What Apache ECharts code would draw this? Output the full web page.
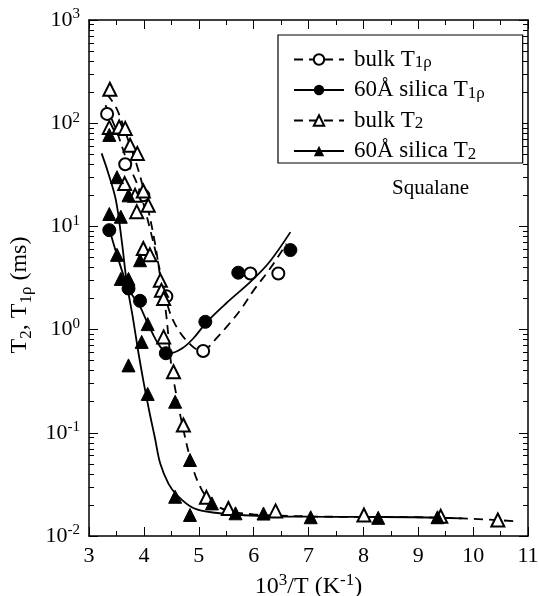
<!DOCTYPE html>
<html>
  <head>
    <meta charset="utf-8" />
    <title>Squalane T2, T1rho</title>
    <script src="https://cdn.jsdelivr.net/npm/echarts@6/dist/echarts.min.js"></script>
  </head>
  <body style="margin:0">
    <div id="main" style="width: 539px;height:596px;"></div>
    <script type="text/javascript">
      // measured points, [10^3/T, time in ms]
      var bulkT1rho = [[3.33,123],[3.66,40],[3.99,20],[4.41,2.1],[5.08,0.62],[5.94,3.5],[6.45,3.5]];
      var silicaT1rho = [[3.37,9.2],[3.72,2.5],[3.93,1.9],[4.40,0.59],[5.12,1.19],[5.72,3.56],[6.67,5.9]];
      var bulkT2 = [[3.38,213],[3.37,91],[3.55,92],[3.66,89],[3.75,61],[3.88,51],[3.65,26],[3.84,20],[3.99,22],
                    [4.08,16],[3.87,13.9],[3.99,6.1],[4.11,5.3],[4.30,3.0],[4.32,2.4],[4.36,2.0],[4.36,0.85],
                    [4.54,0.39],[4.72,0.119],[5.14,0.0237],[5.54,0.0185],[6.40,0.0175],[8.01,0.016],[9.41,0.0155],[10.45,0.0143]];
      var silicaT2 = [[3.37,77],[3.51,30],[3.72,20],[3.37,13.2],[3.58,12.4],[3.51,5.3],[3.58,3.1],[3.72,3.1],[3.93,4.7],
                      [4.07,1.13],[3.96,0.76],[3.72,0.45],[4.07,0.238],[4.57,0.2],[4.84,0.0545],[4.57,0.024],[4.84,0.016],
                      [5.24,0.0207],[5.67,0.0166],[6.18,0.0165],[7.04,0.0152],[8.27,0.015],[9.35,0.0152]];

      // fitted curves
      var bulkT1rhoFit = [[3.3,150],[3.5,85],[3.7,42],[3.9,24],[4.1,10],[4.3,3.6],[4.45,1.6],[4.6,1.05],[4.8,0.76],
                          [5.0,0.64],[5.15,0.66],[5.3,0.8],[5.5,1.05],[5.76,1.55],[6.0,2.4],[6.3,3.9],[6.6,6.8]];
      var silicaT1rhoFit = [[3.37,9.5],[3.5,5.5],[3.72,2.5],[3.93,1.67],[4.07,1.15],[4.3,0.68],[4.48,0.59],[4.7,0.66],
                            [4.9,0.82],[5.15,1.19],[5.5,1.8],[5.97,3.0],[6.3,4.6],[6.67,8.8]];
      var bulkT2Fit = [[3.33,190],[3.5,140],[3.7,72],[3.9,35],[4.05,17],[4.2,7],[4.3,3.2],[4.4,1.5],[4.5,0.45],[4.6,0.22],
                       [4.7,0.12],[4.85,0.055],[5.0,0.032],[5.2,0.022],[5.5,0.0178],[6.0,0.0162],[7.0,0.0155],[8.0,0.0153],
                       [9.0,0.0152],[9.8,0.0148],[10.8,0.0139]];
      var silicaT2Fit = [[3.23,51],[3.35,33],[3.49,18],[3.6,7],[3.69,2.8],[3.8,1.3],[3.9,0.6],[4.0,0.3],[4.1,0.16],[4.2,0.09],
                         [4.3,0.05],[4.45,0.032],[4.6,0.025],[4.9,0.0187],[5.3,0.0168],[6.06,0.0157],[7.0,0.0154],[8.0,0.0153],
                         [9.0,0.0152],[9.8,0.0148]];

      var seriesNames = ['bulk T1ρ', '60Å silica T1ρ', 'bulk T2', '60Å silica T2'];
      var xMin = 3, xMax = 11;
      var yMin = 0.01, yMax = 1000;

      // minor ticks of the log axis (2..9 in every decade), placed in log10 space
      var yMinorTicks = [];
      for (var d = -2; d < 3; d++) {
        for (var k = 2; k <= 9; k++) yMinorTicks.push(d + Math.log10(k));
      }

      var font = 'Liberation Serif';
      function richSet(size, subSize, lh) {
        return {
          base: { fontFamily: font, fontSize: size, color: '#000', lineHeight: lh },
          sup: { fontFamily: font, fontSize: subSize, color: '#000', verticalAlign: 'top', lineHeight: subSize },
          sub: { fontFamily: font, fontSize: subSize, color: '#000', verticalAlign: 'bottom', lineHeight: subSize }
        };
      }
      var tickRich = richSet(22, 15, 26);
      var titleRich = richSet(24, 17, 29);
      var legendRich = richSet(23, 17, 24);

      var myChart = echarts.init(document.getElementById('main'));

      function yAxis(pos, minor) {
        var ax = minor
          ? { type: 'value', min: Math.log10(yMin), max: Math.log10(yMax) }
          : { type: 'log', min: yMin, max: yMax, logBase: 10 };
        ax.position = pos;
        ax.axisLine = { show: !minor, onZero: false, lineStyle: { color: '#000', width: 1.5 } };
        ax.axisTick = minor
          ? { show: true, inside: true, length: 5, customValues: yMinorTicks, lineStyle: { color: '#000' } }
          : { show: true, inside: true, length: 9, lineStyle: { color: '#000' } };
        ax.axisLabel = { show: false };
        ax.splitLine = { show: false };
        return ax;
      }

      var yAxes = [yAxis('left', false), yAxis('left', true), yAxis('right', false), yAxis('right', true)];
      yAxes[0].axisLabel = {
        show: true, margin: 9,
        formatter: function (v) { return '{base|10}{sup|' + Math.round(Math.log10(v)) + '}'; },
        rich: tickRich
      };
      yAxes[0].name = '{base|T}{sub|2}{base|, T}{sub|1ρ}{base| (ms)}';
      yAxes[0].nameLocation = 'middle';
      yAxes[0].nameGap = 43;
      yAxes[0].nameTextStyle = { rich: titleRich, padding: [0, 34, 0, 0] };

      function xAxis(pos, labels) {
        return {
          type: 'value', position: pos, min: xMin, max: xMax, interval: 1,
          axisLine: { onZero: false, lineStyle: { color: '#000', width: 1.5 } },
          axisTick: { inside: true, length: 9, lineStyle: { color: '#000' } },
          minorTick: { show: true, splitNumber: 2, length: 5, lineStyle: { color: '#000' } },
          axisLabel: labels ? { show: true, margin: 9, fontFamily: font, fontSize: 22, color: '#000' } : { show: false },
          splitLine: { show: false }
        };
      }
      var xAxes = [xAxis('bottom', true), xAxis('top', false)];
      xAxes[0].name = '{base|10}{sup|3}{base|/T (K}{sup|-1}{base|)}';
      xAxes[0].nameLocation = 'middle';
      xAxes[0].nameGap = 30;
      xAxes[0].nameTextStyle = { rich: titleRich };

      function curve(name, data, dashed, symbol) {
        return {
          name: name, type: 'line', data: data, smooth: 0.35, showSymbol: false, symbol: symbol,
          symbolSize: 12, silent: true, z: 2,
          itemStyle: { color: '#000' },
          lineStyle: { color: '#000', width: 1.8, type: dashed ? [9, 6] : 'solid' }
        };
      }
      function points(name, data, symbol, size) {
        return {
          name: name, type: 'scatter', data: data, symbol: symbol, symbolSize: size, z: 3,
          itemStyle: { color: '#000', borderColor: '#000', borderWidth: 1, opacity: 1 }
        };
      }

      option = {
        animation: false,
        grid: { left: 89, right: 11, top: 20, bottom: 60, outerBoundsMode: 'none' },
        legend: {
          orient: 'vertical', left: 278, top: 35,
          data: seriesNames,
          backgroundColor: '#fff', borderColor: '#000', borderWidth: 1.2,
          padding: [13, 38, 0, 15], itemGap: 7, itemWidth: 50, itemHeight: 13,
          formatter: function (n) { return n.replace(/T(1ρ|2)$/, 'T{sub|$1}').replace(/^(.*?T)\{/, '{base|$1}{'); },
          textStyle: { rich: legendRich, padding: [0, 0, 0, 5] }
        },
        graphic: [{
          type: 'text', left: 392, top: 178,
          style: { text: 'Squalane', font: '21px "Liberation Serif"', fill: '#000' }
        }],
        xAxis: xAxes,
        yAxis: yAxes,
        series: [
          curve(seriesNames[0], bulkT1rhoFit, true, 'emptyCircle'),
          curve(seriesNames[1], silicaT1rhoFit, false, 'circle'),
          curve(seriesNames[2], bulkT2Fit, true, 'emptyTriangle'),
          curve(seriesNames[3], silicaT2Fit, false, 'triangle'),
          points(seriesNames[0], bulkT1rho, 'emptyCircle', 12),
          points(seriesNames[1], silicaT1rho, 'circle', 13),
          points(seriesNames[2], bulkT2, 'emptyTriangle', 13),
          points(seriesNames[3], silicaT2, 'triangle', 13)
        ]
      };
      myChart.setOption(option);
    </script>
  </body>
</html>
